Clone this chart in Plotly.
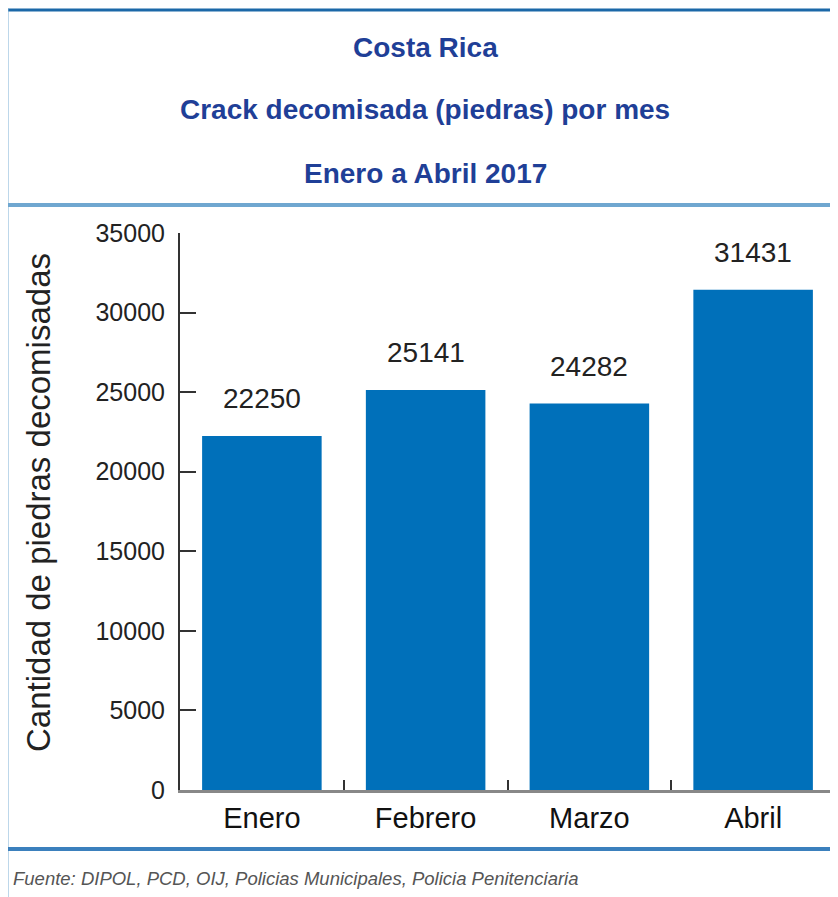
import plotly.graph_objects as go

months = ["Enero", "Febrero", "Marzo", "Abril"]
values = [22250, 25141, 24282, 31431]
y_ticks = [0, 5000, 10000, 15000, 20000, 25000, 30000, 35000]

title_lines = ["Costa Rica", "Crack decomisada (piedras) por mes", "Enero a Abril 2017"]
y_title = "Cantidad de piedras decomisadas"
source = "Fuente: DIPOL, PCD, OIJ, Policias Municipales, Policia Penitenciaria"

# The page body adds an 8px margin; compensate so the picture lands at the window origin.
O = 8
W, H = 838 - O, 897 - O
L = 180 - O
T = 233 - O
B = H - (790 - O)
R = W - (835 - O)
PW = W - L - R
PH = H - T - B


def px(x):
    return (x - O - L) / PW


def py(y):
    return (H - B - (y - O)) / PH


BAR = "#0070ba"
TITLE_C = "#1f3f97"
FONT = "Liberation Sans, Arial, sans-serif"

fig = go.Figure(go.Bar(x=months, y=values, marker_color=BAR, width=0.73,
                       marker_line_width=0))

annotations = []
for m, v in zip(months, values):
    annotations.append(dict(x=m, y=v, xref="x", yref="y", text=str(v), showarrow=False,
                            yanchor="bottom", yshift=20,
                            font=dict(family=FONT, size=28, color="#222")))

for txt, yy in zip(title_lines, [47, 110, 173]):
    annotations.append(dict(x=px(425), y=py(yy), xref="paper", yref="paper", text="<b>" + txt + "</b>",
                            showarrow=False, xanchor="center", yanchor="middle",
                            font=dict(family=FONT, size=28, color=TITLE_C)))

annotations.append(dict(x=px(38), y=py(503), xref="paper", yref="paper", text=y_title,
                        textangle=-90, showarrow=False, xanchor="center", yanchor="middle",
                        font=dict(family=FONT, size=33, color="#222")))

annotations.append(dict(x=px(11), y=py(878), xref="paper", yref="paper", text="<i>" + source + "</i>",
                        showarrow=False, xanchor="left", yanchor="middle",
                        font=dict(family=FONT, size=18.5, color="#555")))

shapes = [
    dict(type="line", xref="paper", yref="paper", x0=px(5), x1=px(850), y0=py(10), y1=py(10),
         line=dict(color="#1b68a8", width=3)),
    dict(type="line", xref="paper", yref="paper", x0=px(7), x1=px(7), y0=py(8), y1=py(905),
         line=dict(color="#7db0d6", width=3)),
    dict(type="line", xref="paper", yref="paper", x0=px(5), x1=px(850), y0=py(205), y1=py(205),
         line=dict(color="#6fa7d0", width=4)),
    dict(type="line", xref="paper", yref="paper", x0=px(5), x1=px(850), y0=py(849), y1=py(849),
         line=dict(color="#3b80bd", width=4)),
]

fig.update_layout(
    width=W, height=H,
    margin=dict(l=L, r=R, t=T, b=B, pad=0),
    plot_bgcolor="white", paper_bgcolor="white",
    showlegend=False,
    annotations=annotations,
    shapes=shapes,
    xaxis=dict(showline=True, linecolor="#888", linewidth=3, ticks="inside", tickson="boundaries",
               ticklen=10, tickwidth=2, tickcolor="#333",
               tickfont=dict(family=FONT, size=29, color="#111"), showgrid=False,
               fixedrange=True),
    yaxis=dict(range=[0, 35000], tickvals=y_ticks, ticktext=[str(t) for t in y_ticks],
               showline=True, linecolor="#333", linewidth=2, ticks="inside", ticklen=16,
               tickwidth=2, tickcolor="#333", showgrid=False, zeroline=False,
               tickfont=dict(family=FONT, size=25, color="#222"), ticklabelstandoff=8),
)

fig.write_html("out.html")
